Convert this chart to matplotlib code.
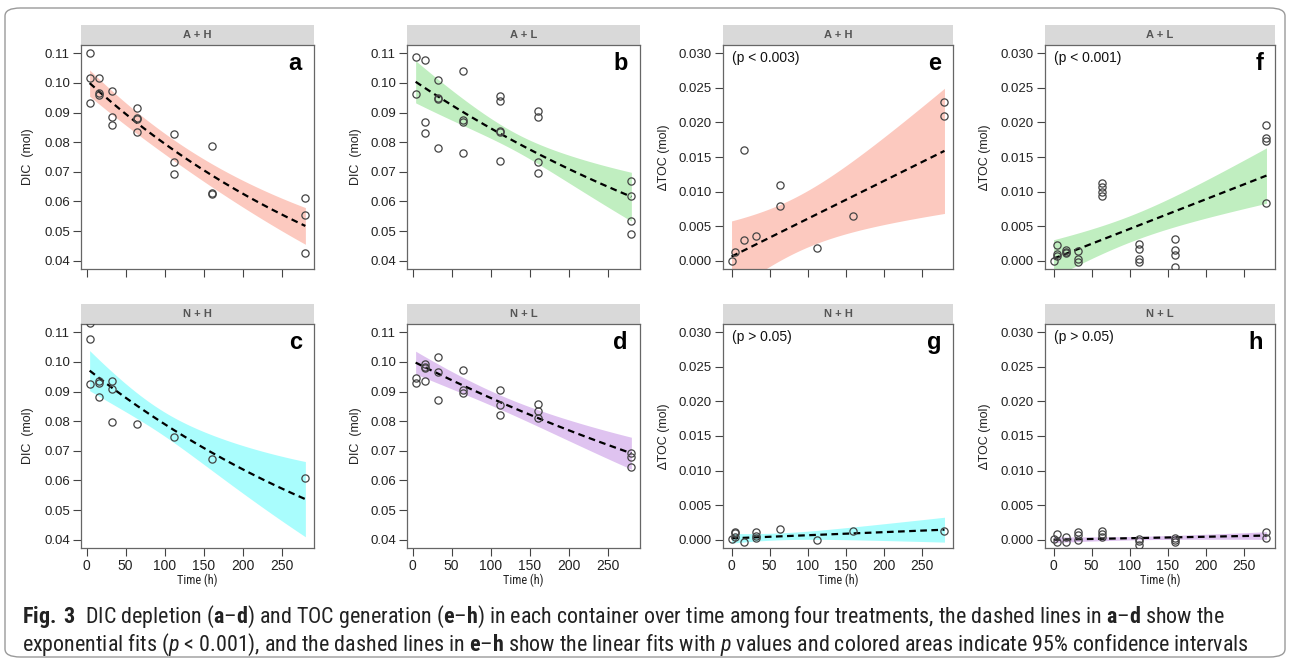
import numpy as np
import matplotlib
matplotlib.use('Agg')
import matplotlib.pyplot as plt
from matplotlib import font_manager
from matplotlib.patches import Rectangle, FancyBboxPatch

installed = {f.name for f in font_manager.fontManager.ttflist}
narrow = 'Liberation Sans'
for cand in ['Liberation Sans Narrow', 'DejaVu Sans Condensed', 'Roboto Condensed', 'Open Sans Condensed']:
    if cand in installed:
        narrow = cand
        break

plt.rcParams['font.family'] = ['Liberation Sans', 'DejaVu Sans']
plt.rcParams['mathtext.fontset'] = 'custom'
plt.rcParams['mathtext.rm'] = narrow
plt.rcParams['mathtext.bf'] = narrow + ':bold'
plt.rcParams['mathtext.it'] = narrow + ':italic'

# 数据
t_a = [4, 4, 4, 16, 16, 16, 32, 32, 32, 64, 64, 64, 64, 112, 112, 112, 160, 160, 160, 280, 280, 280]
dic_a = [0.1100, 0.1015, 0.0931, 0.1018, 0.0965, 0.0959, 0.0973, 0.0886, 0.0859, 0.0914, 0.0883,
         0.0877, 0.0836, 0.0827, 0.0733, 0.0693, 0.0788, 0.0630, 0.0626, 0.0612, 0.0555, 0.0426]

t_b = [4, 4, 16, 16, 16, 32, 32, 32, 32, 64, 64, 64, 64, 112, 112, 112, 112, 112,
       160, 160, 160, 160, 280, 280, 280, 280]
dic_b = [0.1086, 0.0964, 0.1079, 0.0869, 0.0830, 0.1009, 0.0949, 0.0946, 0.0780, 0.1040, 0.0875,
         0.0867, 0.0764, 0.0955, 0.0939, 0.0839, 0.0834, 0.0738, 0.0905, 0.0885, 0.0734, 0.0695,
         0.0670, 0.0617, 0.0533, 0.0490]

t_c = [4, 4, 4, 16, 16, 16, 32, 32, 32, 64, 112, 160, 280]
dic_c = [0.1130, 0.1076, 0.0926, 0.0936, 0.0928, 0.0881, 0.0934, 0.0909, 0.0796, 0.0790, 0.0748,
         0.0672, 0.0607]

t_d = [4, 4, 16, 16, 16, 16, 32, 32, 32, 64, 64, 64, 112, 112, 112, 160, 160, 160, 280, 280, 280]
dic_d = [0.0945, 0.0928, 0.0993, 0.0984, 0.0979, 0.0934, 0.1018, 0.0966, 0.0870, 0.0974, 0.0906,
         0.0894, 0.0906, 0.0855, 0.0820, 0.0857, 0.0835, 0.0811, 0.0694, 0.0679, 0.0647]

t_e = [0, 4, 16, 16, 32, 64, 64, 112, 160, 280, 280]
toc_e = [0.0, 0.0012, 0.0160, 0.0030, 0.0036, 0.0109, 0.0079, 0.0018, 0.0065, 0.0229, 0.0210]

t_f = [0, 4, 4, 4, 16, 16, 16, 32, 32, 32, 64, 64, 64, 64, 112, 112, 112, 112,
       160, 160, 160, 160, 280, 280, 280, 280]
toc_f = [0.0, 0.0023, 0.00096, 0.00072, 0.0016, 0.0013, 0.0011, 0.0014, 0.0003, -0.00014,
         0.0112, 0.0107, 0.0100, 0.0094, 0.0024, 0.0017, 0.0003, -0.0002,
         0.0032, 0.0015, 0.0008, -0.0009, 0.0196, 0.0177, 0.0173, 0.0084]

t_g = [0, 4, 4, 4, 16, 32, 32, 32, 64, 112, 160, 280]
toc_g = [0.0001, 0.0011, 0.0009, 0.0004, -0.0003, 0.0011, 0.0005, 0.0002, 0.0016, 0.0, 0.0012, 0.0012]

t_h = [0, 4, 4, 16, 16, 32, 32, 32, 64, 64, 64, 112, 112, 112, 160, 160, 160, 280, 280]
toc_h = [0.0001, 0.0008, -0.0003, 0.0004, -0.0004, 0.0011, 0.0007, 0.0, 0.0012, 0.0008, 0.0004,
         0.0001, -0.0002, -0.0008, 0.0003, -0.0001, -0.0003, 0.0011, 0.0003]

# 指数拟合 y = A*exp(-B*t)，线性拟合 y = a + b*t
exp_fit = {'a': (0.1009, 0.002386), 'b': (0.1011, 0.00177),
           'c': (0.0979, 0.002146), 'd': (0.1003, 0.001327)}
lin_fit = {'e': (0.0006, 5.46e-5), 'f': (0.0003, 4.29e-5),
           'g': (0.0002, 4.46e-6), 'h': (0.0, 2.14e-6)}
# 95%置信区间半宽: (最小半宽, 位置, 斜率)
ci = {'a': (0.0035, 100, 2.84e-5), 'b': (0.0030, 130, 5.12e-5),
      'c': (0.0040, 90, 6.34e-5), 'd': (0.0024, 110, 2.85e-5),
      'e': (0.0040, 80, 4.06e-5), 'f': (0.0019, 100, 1.96e-5),
      'g': (0.0005, 60, 7.86e-6), 'h': (0.00025, 110, 2.87e-6)}

colors = {'A + H': '#FCC9BF', 'A + L': '#C0EEC0', 'N + H': '#A9FDFD', 'N + L': '#DFC3F0'}
p_text = {'e': '(p < 0.003)', 'f': '(p < 0.001)', 'g': '(p > 0.05)', 'h': '(p > 0.05)'}
xticks = [0, 50, 100, 150, 200, 250]

W, H = 1290, 665
fig = plt.figure(figsize=(W / 100, H / 100), dpi=100)

frame = FancyBboxPatch((5 / W, 1 - 657 / H), 1280 / W, 649 / H,
                       boxstyle='round,pad=0,rounding_size=0.012', transform=fig.transFigure,
                       fill=False, ec='#9a9a9a', lw=1.0)
fig.patches.append(frame)

panels = [
    # letter, t, y, strip, left px, top px, width px, ylabel x px
    ('a', t_a, dic_a, 'A + H', 81, 45, 233, 28),
    ('b', t_b, dic_b, 'A + L', 407, 45, 233, 356),
    ('e', t_e, toc_e, 'A + H', 723, 45, 230, 664),
    ('f', t_f, toc_f, 'A + L', 1045, 45, 230, 985),
    ('c', t_c, dic_c, 'N + H', 81, 324, 233, 28),
    ('d', t_d, dic_d, 'N + L', 407, 324, 233, 356),
    ('g', t_g, toc_g, 'N + H', 723, 324, 230, 664),
    ('h', t_h, toc_h, 'N + L', 1045, 324, 230, 985),
]
ax_h = 224

for letter, t, y, strip, left, top, width, ylx in panels:
    ax = fig.add_axes([left / W, 1 - (top + ax_h) / H, width / W, ax_h / H])
    is_dic = letter in exp_fit
    color = colors[strip]
    hmin, xc, k = ci[letter]

    if is_dic:
        tt = np.linspace(4, 280, 200)
        A, B = exp_fit[letter]
        fit = A * np.exp(-B * tt)
        ax.set_xlim(-7.04, 291.04)
        ax.set_ylim(0.0372, 0.1128)
        ax.set_yticks([0.04, 0.05, 0.06, 0.07, 0.08, 0.09, 0.10, 0.11])
        ax.set_yticklabels(['%.2f' % v for v in ax.get_yticks()])
        ylabel = 'DIC  (mol)'
    else:
        tt = np.linspace(0, 280, 200)
        a0, b0 = lin_fit[letter]
        fit = a0 + b0 * tt
        ax.set_xlim(-11.2, 291.2)
        ax.set_ylim(-0.0012, 0.0312)
        ax.set_yticks([0.0, 0.005, 0.010, 0.015, 0.020, 0.025, 0.030])
        ax.set_yticklabels(['%.3f' % v for v in ax.get_yticks()])
        ylabel = '\u2206TOC (mol)'
        ax.text(0.04, 0.942, p_text[letter], transform=ax.transAxes, ha='left', va='center',
                fontsize=10, color='#111')

    half = np.sqrt(hmin ** 2 + (k * (tt - xc)) ** 2)
    ax.fill_between(tt, fit - half, fit + half, color=color, lw=0, zorder=1)
    ax.plot(tt, fit, color='black', lw=1.6, dashes=(3, 2), zorder=3)
    ax.plot(t, y, 'o', mfc='none', mec='#444444', mew=0.9, ms=5.2, zorder=4)

    ax.set_xticks(xticks)
    ax.tick_params(direction='out', length=6, width=0.8, colors='#444444',
                   labelcolor='#222222', labelsize=9.5, pad=2)
    if top > 100:
        ax.set_xticklabels([str(v) for v in xticks])
        ax.tick_params(axis='x', labelsize=10)
    else:
        ax.tick_params(labelbottom=False)
    for sp in ax.spines.values():
        sp.set_color('#666666')
        sp.set_linewidth(0.9)

    ax.text(0.948, 0.888, letter, transform=ax.transAxes, ha='right', va='baseline',
            fontsize=17, fontweight='bold', color='black')

    # 条带标题
    sh = 20 / ax_h
    ax.add_patch(Rectangle((0, 1), 1, sh, transform=ax.transAxes, clip_on=False,
                           fc='#D9D9D9', ec='none'))
    ax.text(0.5, 1 + sh / 2, strip, transform=ax.transAxes, ha='center', va='center',
            fontsize=8, fontweight='bold', color='#555555')

    fig.text(ylx / W, 1 - (top + ax_h / 2) / H, ylabel, rotation=90, ha='center', va='center',
             fontsize=9, color='#222222')
    if top > 100:
        fig.text((left + width / 2) / W, 1 - 580 / H, 'Time (h)', ha='center', va='center',
                 fontsize=8.8, family=narrow, color='#222222')

line1 = (r"$\bf{Fig.}$ $\bf{3}$  DIC depletion ($\bf{a}$–$\bf{d}$) and TOC generation ($\bf{e}$–$\bf{h}$) "
         r"in each container over time among four treatments, the dashed lines in $\bf{a}$–$\bf{d}$ show the")
line2 = (r"exponential fits ($p$ < 0.001), and the dashed lines in $\bf{e}$–$\bf{h}$ show the linear fits "
         r"with $p$ values and colored areas indicate 95% confidence intervals")
cap1 = fig.text(22 / W, 1 - 617 / H, line1, ha='left', va='center', fontsize=13, family=narrow,
                color='#222222')
cap2 = fig.text(22 / W, 1 - 645 / H, line2, ha='left', va='center', fontsize=13, family=narrow,
                color='#222222')

# 按参考图宽度缩放说明文字
renderer = fig.canvas.get_renderer()
w1 = cap1.get_window_extent(renderer).width
w2 = cap2.get_window_extent(renderer).width
scale = 0.5 * (1233.0 / w1 + 1196.0 / w2)
cap1.set_fontsize(13 * scale)
cap2.set_fontsize(13 * scale)

fig.savefig('out.png', dpi=100)
